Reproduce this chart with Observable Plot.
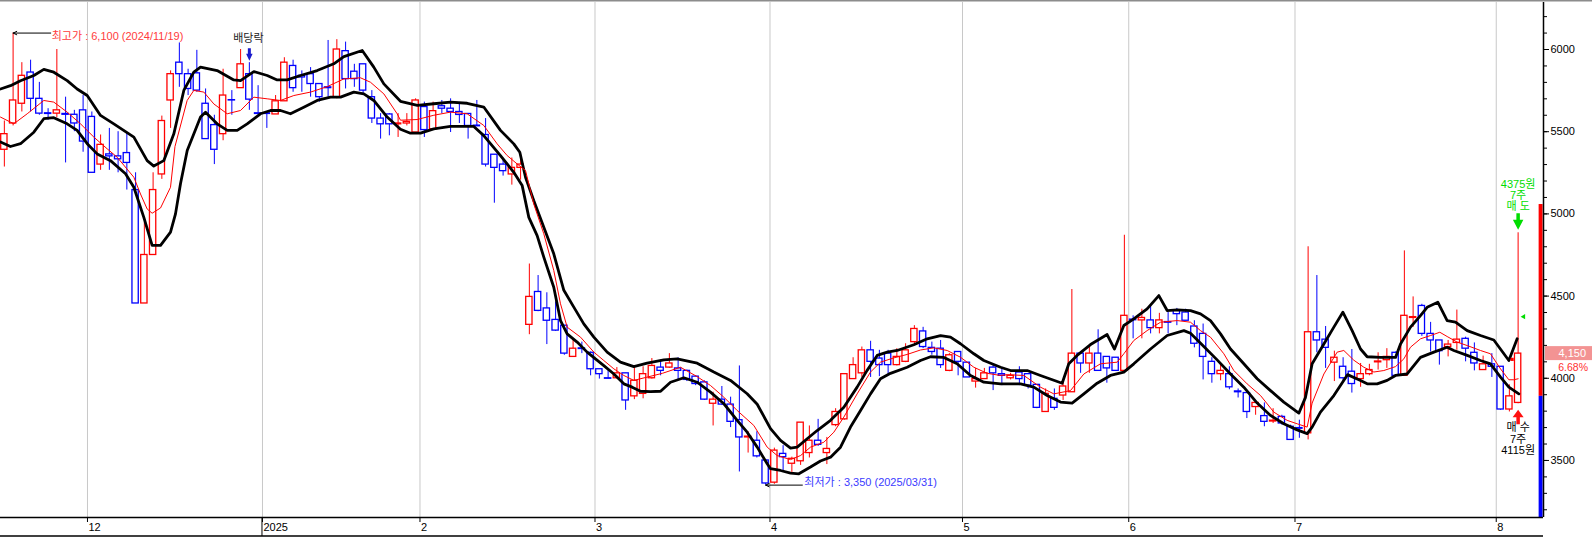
<!DOCTYPE html>
<html><head><meta charset="utf-8">
<script src="https://cdn.jsdelivr.net/npm/d3@7"></script>
<script src="https://cdn.jsdelivr.net/npm/@observablehq/plot@0.6"></script>
<style>html,body{margin:0;padding:0;background:#fff;} svg{display:block}</style>
</head><body><div id="chart"></div>
<script>
// ---- daily candles (index 0 = 2024-11-18 ... 173 = 2025-08-05)
const O = [5390,5550,5670,5860,5700,5612,5610,5608,5603,5630, 5590,5300,5362,5350,5370,5145,4455,4750,5240,5690,
 5920,5850,5855,5670,5540,5485,5692,5765,5850,5612, 5612,5605,5685,5900,5840,5850,5790,5770,5710,5990,
 5865,5910,5710,5580,5605,5545,5550,5495,5650,5515, 5655,5640,5620,5608,5537,5480,5360,5300,5240,5280,
 4325,4525,4425,4355,4320,4130,4182,4155,4055,4000, 4000,4030,3890,3905,4000,4065,4065,4060,4045,4010,
 3975,3845,3870,3840,3745,3640,3620,3500,3365,3540, 3480,3495,3545,3620,3545,3715,3750,3995,4030,4170,
 4120,4150,4080,4100,4220,4285,4185,4180,4045,4160, 4095,3980,3995,4065,4025,4000,4035,4025,3960,3795,
 3875,3895,3915,4150,4090,4150,4130,4125,4045,4357, 4352,4352,4305,4342,4410,4400,4315,4270,4100,4025,
 4025,3920,3910,3825,3770,3737,3765,3705,3697,3665, 4280,4235,4095,4070,4040,3995,4025,4097,4110,4155,
 4015,4367,4440,4270,4230,4190,4215,4240,4155,4050, 4085,4070,3810,3850];
const H = [5565,6100,5920,5935,5800,5640,6000,5710,5630,5720, 5620,5480,5520,5500,5490,5250,4950,5250,5595,5870,
 6040,5880,5995,5760,5600,5880,5750,6000,5920,5780, 5612,5720,5950,5935,5870,5890,5790,6055,6060,6045,
 5910,5910,5750,5610,5610,5610,5610,5700,5680,5680, 5690,5700,5670,5608,5690,5580,5360,5325,5340,5360,
 4695,4625,4520,4465,4320,4240,4220,4160,4055,4050, 4065,4030,4070,4070,4120,4110,4150,4125,4050,4015,
 3985,3915,3950,3885,4075,3675,3675,3505,3575,3590, 3520,3730,3710,3750,3640,3815,4025,4125,4190,4225,
 4170,4170,4180,4210,4320,4310,4220,4230,4150,4160, 4095,4060,4060,4080,4060,4030,4070,4025,3960,3935,
 3935,3975,4540,4155,4200,4295,4130,4125,4870,4380, 4420,4445,4395,4400,4425,4420,4350,4330,4125,4085,
 4070,3935,3910,3850,3850,3815,3775,3715,3745,4800, 4625,4315,4165,4125,4175,4090,4085,4155,4180,4160,
 4775,4495,4450,4340,4230,4230,4415,4250,4215,4135, 4150,4070,3960,4885];
const L = [5285,5535,5620,5620,5600,5570,5585,5310,5500,5375, 5250,5265,5265,5250,5145,4455,4455,4750,5210,5520,
 5770,5720,5740,5455,5300,5445,5600,5765,5630,5605, 5520,5605,5685,5740,5740,5710,5680,5710,5700,5760,
 5770,5720,5550,5455,5475,5465,5535,5495,5465,5515, 5610,5495,5550,5455,5533,5285,5065,5230,5175,5205,
 4265,4405,4205,4285,4140,4130,4150,4015,3995,3995, 4000,3805,3870,3875,3995,4015,4060,3985,3980,3955,
 3865,3710,3835,3700,3430,3545,3515,3350,3355,3430, 3420,3470,3515,3585,3475,3705,3745,3995,4005,4005,
 4010,4025,4075,4095,4210,4180,4140,4060,4040,4015, 4005,3940,3995,3925,3955,3990,3955,3935,3815,3795,
 3805,3865,3915,4030,4030,4045,3970,4045,4045,4240, 4240,4270,4270,4270,4320,4350,4185,3990,3970,3985,
 3930,3880,3755,3775,3705,3725,3715,3625,3635,3625, 4155,4060,3980,3975,3910,3945,4015,4050,4060,4010,
 4015,4310,4255,4160,4080,4130,4170,4100,4045,4050, 4005,3805,3795,3845];
const C = [5485,5690,5840,5700,5610,5608,5630,5603,5550,5440, 5250,5420,5350,5332,5310,4455,4750,5145,5565,5850,
 5850,5760,5750,5455,5390,5720,5690,5910,5695,5608, 5608,5685,5920,5765,5830,5790,5710,5765,6000,5820,
 5820,5750,5580,5545,5545,5550,5560,5690,5510,5625, 5640,5620,5602,5535,5533,5300,5280,5260,5280,5300,
 4495,4410,4350,4290,4150,4180,4178,4055,4025,3997, 4030,3865,3985,4025,4075,4045,4090,4045,3990,3965,
 3870,3870,3840,3735,3640,3645,3525,3360,3560,3520, 3510,3730,3620,3595,3570,3795,4025,4080,4170,4100,
 4080,4080,4130,4170,4300,4190,4160,4080,4140,4100, 4005,3995,4030,4030,4015,4015,3995,3955,3820,3905,
 3820,3950,4150,4090,4150,4045,4060,4045,4380,4353, 4367,4305,4352,4338,4390,4350,4210,4130,4025,4045,
 3945,3915,3795,3850,3735,3742,3725,3625,3693,4280, 4230,4185,4125,4000,3965,4025,4050,4102,4130,4015,
 4380,4372,4270,4230,4165,4205,4235,4180,4090,4085, 4070,3810,3890,4150];

// ---- band lines (index, price)
const upperI = [-0.44,0.7,1.85,3.37,4.51,5.65,7.18,8.32,9.47,10.99,12.51,14.8,16.32,17.08,18.22,19.37,20.51,21.65,22.42,24.32,26.22,26.99,28.51,30.04,31.18,32.32,33.85,35.75,37.65,38.8,40.9,42.22,43.37,45.27,47.2,49.08,50.98,52.89,54.79,56.7,58.22,58.91,59.56,60.5,61.65,62.79,63.94,65.08,66.22,67.37,68.89,70.41,71.94,73.46,75.37,76.89,79.18,81.08,82.99,84.89,86.04,87.56,88.7,89.85,90.61,91.75,92.89,94.42,95.94,97.46,98.6,99.75,100.9,102.04,103.94,105.47,106.99,108.13,109.27,110.8,111.94,113.85,114.99,116.89,118.41,120.89,121.65,122.6,124.13,126.03,126.87,127.94,129.08,130.6,131.94,132.89,134.03,135.56,136.7,137.84,138.99,140.13,141.65,143.18,144.7,146.22,147.94,148.7,149.46,150.8,151.94,152.97,154.03,154.99,155.75,157.27,158.99,159.56,160.7,161.84,162.6,163.82,164.89,165.84,167.18,168.7,170.22,171.94,172.89];
const upperV = [5760,5780,5810,5842,5879,5862,5811,5760,5720,5599,5548,5467,5324,5291,5324,5487,5751,5862,5893,5872,5815,5811,5866,5842,5815,5815,5842,5872,5913,5957,5994,5893,5791,5685,5660,5670,5680,5673,5650,5508,5426,5375,5223,5081,4919,4757,4535,4433,4331,4250,4159,4098,4071,4092,4112,4118,4092,4038,3987,3906,3842,3694,3622,3575,3581,3632,3682,3744,3824,3946,4048,4139,4159,4169,4204,4240,4260,4250,4210,4149,4108,4067,4047,4047,4017,3970,4088,4139,4205,4266,4178,4321,4361,4422,4503,4412,4416,4412,4392,4351,4270,4178,4088,3997,3925,3855,3788,3884,4088,4209,4311,4402,4290,4178,4131,4127,4127,4209,4311,4381,4432,4463,4351,4341,4290,4260,4233,4108,4240];
const lowerI = [-0.44,0.7,1.85,3.37,4.51,5.65,7.18,8.32,9.47,10.61,12.13,13.85,14.8,15.94,16.89,17.85,18.99,19.56,20.13,20.9,22.42,22.99,24.32,25.47,26.61,27.75,29.27,30.42,31.56,32.7,34.22,35.75,37.27,38.42,39.94,41.08,42.22,43.75,45.27,46.41,47.56,49.08,50.98,53.65,54.79,56.7,58.22,59.18,59.94,60.89,61.65,62.79,63.56,64.32,65.46,66.6,68.51,69.66,70.8,71.75,72.7,73.85,75.0,76.13,77.66,79.18,80.7,82.23,83.75,84.89,86.04,87.18,87.56,88.7,89.85,90.8,92.13,93.27,94.42,95.56,96.7,97.85,98.99,100.13,101.27,103.18,104.7,105.85,107.37,108.89,110.42,111.94,113.85,116.13,117.65,119.18,120.7,122.03,123.37,124.89,126.41,127.94,129.08,130.99,132.89,134.8,135.56,137.08,138.6,140.13,141.65,143.18,144.7,146.22,147.75,148.89,149.46,150.41,151.94,153.5,154.99,155.75,156.89,158.03,158.99,160.32,161.84,163.37,164.89,165.65,167.18,168.7,169.84,170.99,171.94,173.08];
const lowerV = [5437,5410,5427,5497,5579,5585,5548,5508,5427,5365,5324,5244,5162,4979,4808,4808,4889,5000,5183,5386,5589,5618,5548,5508,5508,5548,5609,5629,5629,5609,5649,5690,5710,5710,5741,5730,5690,5589,5515,5491,5491,5517,5532,5532,5476,5355,5253,5172,4979,4868,4737,4554,4351,4270,4220,4159,4077,4026,3966,3946,3921,3919,3921,3976,4003,3976,3916,3845,3744,3672,3581,3480,3450,3439,3423,3419,3460,3497,3520,3581,3703,3804,3905,3997,4030,4067,4108,4131,4127,4088,4017,3976,3966,3966,3946,3895,3855,3849,3905,3970,4017,4037,4088,4178,4260,4290,4274,4194,4112,4026,3946,3849,3774,3723,3686,3663,3703,3794,3895,4022,3987,3966,3966,3987,4017,4026,4127,4159,4189,4169,4139,4108,4088,4007,3946,3905];
const maI = [-0.44,1.08,2.61,4.51,5.65,7.18,8.7,10.23,11.75,12.89,14.8,15.56,16.32,16.89,17.85,18.99,19.5,20.89,21.65,22.8,23.94,25.47,26.99,28.51,30.04,31.56,33.08,34.99,36.89,38.8,40.7,41.84,43.37,44.89,45.27,47.17,49.08,50.98,52.89,54.79,56.32,57.46,58.6,59.56,60.5,61.65,62.79,63.56,64.32,65.85,67.37,68.51,69.66,70.8,71.94,73.3,75.2,77.27,79.18,80.7,82.23,83.75,85.65,87.18,88.32,89.85,91.0,92.13,93.66,94.8,95.94,97.46,98.99,100.13,101.65,103.18,104.7,106.23,107.75,109.27,110.8,112.32,113.85,114.6,116.51,118.41,119.94,121.84,123.37,125.27,127.18,127.94,129.08,130.6,132.13,134.03,135.56,136.7,137.84,139.37,140.51,142.03,143.56,145.08,146.6,147.75,148.89,149.46,150.8,152.32,153.08,154.22,155.37,156.51,157.65,158.99,159.94,160.7,161.84,162.99,164.05,164.89,166.03,167.18,168.7,169.84,170.99,171.94,172.51,173.0];
const maV = [5589,5548,5609,5690,5680,5619,5548,5467,5396,5345,5223,5121,5030,5004,5036,5162,5410,5690,5751,5741,5669,5609,5629,5710,5700,5690,5720,5741,5774,5821,5828,5801,5730,5609,5570,5574,5600,5619,5609,5538,5426,5355,5304,5264,5061,4879,4656,4453,4311,4250,4159,4108,4057,4017,3987,4005,4030,4067,4010,3956,3885,3804,3713,3581,3530,3505,3530,3581,3611,3672,3764,3905,4038,4098,4124,4145,4172,4185,4169,4128,4067,4030,4017,4022,4017,3946,3905,3925,4026,4088,4098,4149,4230,4290,4341,4351,4341,4290,4250,4149,4047,3966,3895,3794,3744,3723,3703,3849,4026,4159,4169,4110,4067,4038,4047,4071,4118,4189,4240,4260,4280,4254,4220,4199,4169,4149,4057,3991,3991,3997];

// ---- axis ticks
const monthIdx = [10, 30, 48, 68, 88, 110, 129, 148, 171];
const monthLabels = ["12", "2025", "2", "3", "4", "5", "6", "7", "8"];
const priceMajor = [3500, 4000, 4500, 5000, 5500, 6000];
const priceMinor = d3.range(3200, 6300, 100);

// ---- annotations
const highPt = {i: 1, v: 6100, label: "최고가 : 6,100 (2024/11/19)"};
const lowPt = {i: 87, v: 3350, label: "최저가 : 3,350 (2025/03/31)"};
const dividend = {i: 28, label: "배당락"};
const lastIdx = 173;
const sellPrice = 4375, buyPrice = 4115;
const sellLines = ["4375원", "7주", "매 도"];
const buyLines = ["매 수", "7주", "4115원"];

const xMin = -0.44, xMax = 175.9, yMin = 3153, yMax = 6286;
const candles = O.map((o, i) => ({i, o, h: H[i], l: L[i], c: C[i]}));
const col = d => d.c >= d.o ? "#ff0000" : "#0000ff";
const pts = (I, V) => I.map((i, k) => ({i, v: V[k]}));
const prevClose = C[lastIdx - 1], lastClose = C[lastIdx];

function arrowSym(headW, headH, shaftW, shaftH, up) {
  const s = up ? -1 : 1, hw = headW / 2, sw = shaftW / 2;
  return {draw(ctx) {
    ctx.moveTo(0, 0);
    ctx.lineTo(hw, -headH * s);
    ctx.lineTo(sw, -headH * s);
    ctx.lineTo(sw, -(headH + shaftH) * s);
    ctx.lineTo(-sw, -(headH + shaftH) * s);
    ctx.lineTo(-sw, -headH * s);
    ctx.lineTo(-hw, -headH * s);
    ctx.closePath();
  }};
}
const triLeft = {draw(ctx) { ctx.moveTo(-2.5, 0); ctx.lineTo(2, -2.6); ctx.lineTo(2, 2.6); ctx.closePath(); }};
const sq = {draw(ctx) { ctx.rect(-1.6, -1.6, 3.2, 3.2); }};
const FONT = "'Liberation Sans', Arial, 'Noto Sans CJK KR', sans-serif";
const last = candles[lastIdx];

const sellMarks = sellLines.map((t, k) => Plot.text([t], {x: () => lastIdx, y: () => last.h, text: d => d, dy: -48 + k * 10.7, fill: "#00dd00", fontSize: 11}));
const buyMarks = buyLines.map((t, k) => Plot.text([t], {x: () => lastIdx, y: () => last.l, text: d => d, dy: 24 + k * 11.5, fill: "black", fontSize: 11}));

const plot = Plot.plot({
  width: 1592, height: 537,
  marginLeft: 0, marginRight: 49, marginTop: 2, marginBottom: 20,
  x: {domain: [xMin, xMax], axis: null, label: null},
  y: {domain: [yMin, yMax], axis: null, label: null},
  color: {type: "identity"},
  style: {fontFamily: FONT, fontSize: "11px", background: "white", color: "black"},
  marks: [
    Plot.ruleX(monthIdx, {x: d => d - 0.5, stroke: "#c8c8c8", strokeWidth: 1}),
    Plot.rect([{y1: prevClose, y2: prevClose * 1.3, f: "#ff0000"}, {y1: Math.max(yMin, prevClose * 0.7), y2: prevClose, f: "#0000ff"}],
      {x1: xMax - 0.5, x2: xMax - 0.05, y1: "y1", y2: "y2", fill: "f"}),
    Plot.ruleX(candles, {x: "i", y1: "l", y2: "h", stroke: col, strokeWidth: 1}),
    Plot.rect(candles, {x1: d => d.i - 0.36, x2: d => d.i + 0.36, y1: "o", y2: "c", fill: "white", stroke: col, strokeWidth: 1.3}),
    Plot.line(pts(upperI, upperV), {x: "i", y: "v", stroke: "black", strokeWidth: 2.8}),
    Plot.line(pts(lowerI, lowerV), {x: "i", y: "v", stroke: "black", strokeWidth: 2.8}),
    Plot.line(pts(maI, maV), {x: "i", y: "v", stroke: "#ff0000", strokeWidth: 1}),
    // axes
    Plot.ruleX([xMax], {stroke: "black", strokeWidth: 1.5}),
    Plot.ruleY([yMin], {stroke: "black", strokeWidth: 1.5}),
    Plot.axisY(priceMinor, {anchor: "right", tickSize: 3, tickFormat: () => "", stroke: "black", label: null}),
    Plot.axisY(priceMajor, {anchor: "right", tickSize: 5, tickPadding: 2, tickFormat: d => String(d), fontSize: 11, fill: "black", stroke: "black", label: null}),
    Plot.axisX(monthIdx.map(d => d - 0.5), {anchor: "bottom", tickSize: 5, tickFormat: () => "", stroke: "black", label: null}),
    Plot.text(monthIdx, {x: d => d - 0.5, text: (d, k) => monthLabels[k], frameAnchor: "bottom", dy: 13, dx: 1, textAnchor: "start", fontSize: 11, fill: "black"}),
    // high / low annotations
    Plot.arrow([highPt], {x1: d => d.i + 4.3, x2: "i", y1: "v", y2: "v", stroke: "black", strokeWidth: 1, headLength: 6, headAngle: 50}),
    Plot.text([highPt], {x: d => d.i + 4.3, y: "v", text: "label", textAnchor: "start", dx: 1, dy: 3, fill: "#ff3b3b", fontSize: 11}),
    Plot.arrow([lowPt], {x1: d => d.i + 4.2, x2: "i", y1: "v", y2: "v", stroke: "black", strokeWidth: 1, headLength: 6, headAngle: 50}),
    Plot.text([lowPt], {x: d => d.i + 4.2, y: "v", text: "label", textAnchor: "start", dx: 2, dy: -3, fill: "#3b3bff", fontSize: 11}),
    // dividend
    Plot.dot([dividend], {x: "i", y: d => H[d.i], symbol: arrowSym(6.5, 7, 3, 5.5, false), r: 4, fill: "#1a1acc", stroke: "none", dy: -2}),
    Plot.text([dividend], {x: "i", y: d => H[d.i], text: "label", dy: -24, dx: -1, fill: "#222", fontSize: 11}),
    // trades
    Plot.dot([last], {x: "i", y: "h", symbol: arrowSym(10.5, 10, 3.5, 6.5, false), r: 5, fill: "#00dd00", stroke: "none", dy: -3}),
    ...sellMarks,
    Plot.dot([last], {x: "i", y: "l", symbol: arrowSym(11, 7.5, 3.5, 7, true), r: 5, fill: "#ff1010", stroke: "none", dy: 6}),
    ...buyMarks,
    Plot.dot([sellPrice], {x: () => lastIdx, y: d => d, symbol: triLeft, r: 3, fill: "#00dd00", stroke: "none", dx: 5}),
    Plot.dot([buyPrice], {x: () => lastIdx, y: d => d, symbol: sq, r: 3, fill: "#ff0000", stroke: "none", dx: -6})
  ]
});

document.getElementById("chart").appendChild(plot);

// decorations in the margins
const svg = d3.select(plot);
const xs = plot.scale("x"), ys = plot.scale("y");
const xr = xs.apply(xMax);
svg.append("line").attr("x1", 0).attr("x2", 1592).attr("y1", 0.75).attr("y2", 0.75).attr("stroke", "#8c8c8c").attr("stroke-width", 1.5);
svg.append("line").attr("x1", 0).attr("x2", xr).attr("y1", 536).attr("y2", 536).attr("stroke", "black").attr("stroke-width", 1.5);
const yearX = xs.apply(monthIdx[1] - 0.5);
svg.append("line").attr("x1", yearX).attr("x2", yearX).attr("y1", ys.apply(yMin)).attr("y2", 536).attr("stroke", "black").attr("stroke-width", 1);
const yc = ys.apply(lastClose);
svg.append("rect").attr("x", xr + 2).attr("y", yc - 7).attr("width", 1592 - xr - 2).attr("height", 14).attr("fill", "#f39393");
svg.append("text").attr("x", 1586).attr("y", yc).attr("dy", "0.35em").attr("text-anchor", "end")
  .attr("fill", "white").attr("font-size", 11).attr("font-family", FONT).text(d3.format(",")(lastClose));
svg.append("text").attr("x", 1588).attr("y", yc + 14).attr("dy", "0.35em").attr("text-anchor", "end")
  .attr("fill", "#ff3030").attr("font-size", 10.5).attr("font-family", FONT)
  .text(((lastClose / prevClose - 1) * 100).toFixed(2) + "%");
</script></body></html>
